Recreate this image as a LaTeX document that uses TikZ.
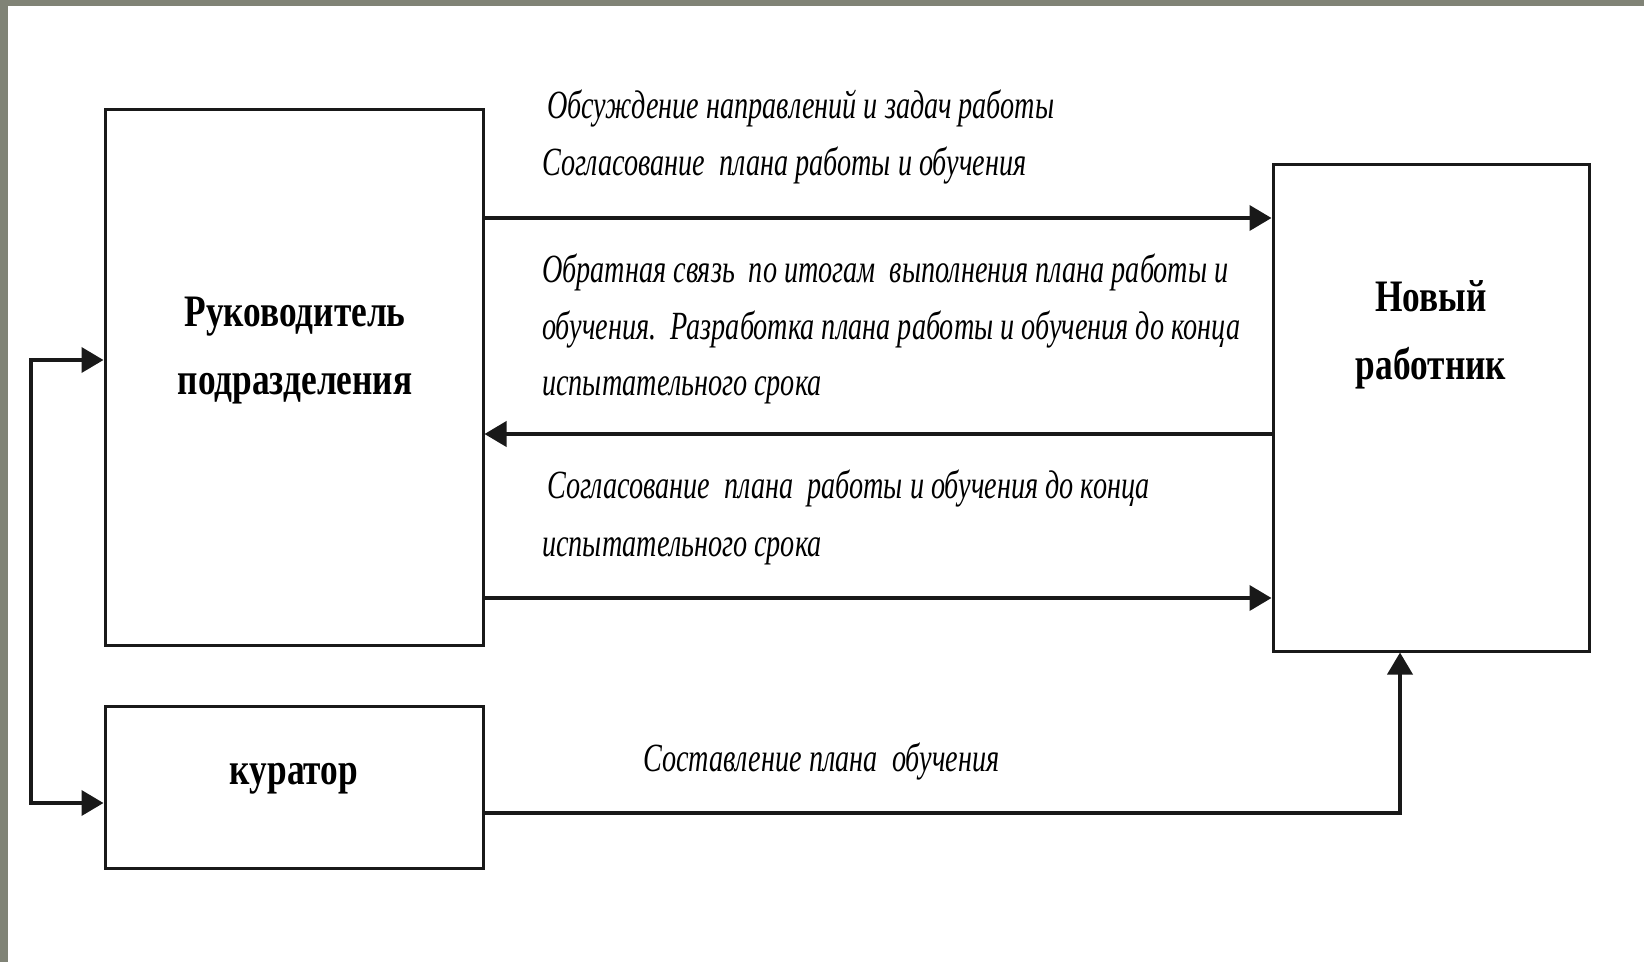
\documentclass[tikz,border=0pt]{standalone}
\usepackage{fontspec}
\setmainfont{Liberation Serif}
\usetikzlibrary{arrows.meta}
\definecolor{frame}{RGB}{128,131,118}
\definecolor{ink}{RGB}{25,25,25}
\newcommand\cond[1]{\scalebox{0.785}[1]{#1}}
\newcommand\slim[1]{\scalebox{0.705}[1]{#1}}
\begin{document}
\begin{tikzpicture}[x=1pt,y=-1pt,
  box/.style={draw=ink, line width=3pt, inner sep=0pt},
  flow/.style={draw=ink, line width=3.8pt, -{Triangle[length=22pt,width=25pt]}},
  title/.style={font=\fontsize{45}{68}\selectfont\bfseries, align=center, inner sep=0pt, text=black},
  note/.style={font=\fontsize{40}{56}\selectfont\itshape, anchor=base west, inner sep=0pt, text=black}]
\useasboundingbox (0,0) rectangle (1644,962);
\fill[frame] (0,0) rectangle (1644,962);
\fill[white] (8,6) rectangle (1644,962);

% boxes
\node[box, minimum width=378pt, minimum height=536pt] (head) at (294,377) {};
\node[box, minimum width=316pt, minimum height=487pt] (new) at (1431,407.5) {};
\node[box, minimum width=378pt, minimum height=162pt] (cur) at (294,787) {};

% box labels
\node[title] (headlbl) at (295,351) {\cond{Руководитель}\\\cond{подразделения}};
\node[title] (newlbl) at (1431,335) {\cond{Новый}\\\cond{работник}};
\node[title] (curlbl) at (294,779) {\cond{куратор}};

% coordinates
\coordinate (y1) at (0,218);
\coordinate (y2) at (0,434);
\coordinate (y3) at (0,598);
\coordinate (turn) at (1400,813);
\coordinate (lt) at (31,360);
\coordinate (lb) at (31,803);

% connectors
\draw[flow] (head.east |- y1) -- (new.west |- y1);
\draw[flow] (new.west |- y2) -- (head.east |- y2);
\draw[flow] (head.east |- y3) -- (new.west |- y3);
\draw[flow] (cur.east |- turn) -- (turn) -- (turn |- new.south);
\draw[flow, {Triangle[length=22pt,width=25pt]}-{Triangle[length=22pt,width=25pt]}]
  (head.west |- lt) -- (lt) -- (lb) -- (cur.west |- lb);

% notes
\node[note] (n1) at (547,118) {\slim{Обсуждение направлений и задач работы}};
\node[note] (n2) at (542,175) {\slim{Согласование\ \ плана работы и обучения}};
\node[note] (n3) at (542,282) {\slim{Обратная связь\ \ по итогам\ \ выполнения плана работы и}};
\node[note] (n4) at (542,339) {\slim{обучения.\ \ Разработка плана работы и обучения до конца}};
\node[note] (n5) at (542,395) {\slim{испытательного срока}};
\node[note] (n6) at (547,498) {\slim{Согласование\ \ плана\ \ работы и обучения до конца}};
\node[note] (n7) at (542,556) {\slim{испытательного срока}};
\node[note] (n8) at (643,771) {\slim{Составление плана\ \ обучения}};
\end{tikzpicture}
\end{document}
